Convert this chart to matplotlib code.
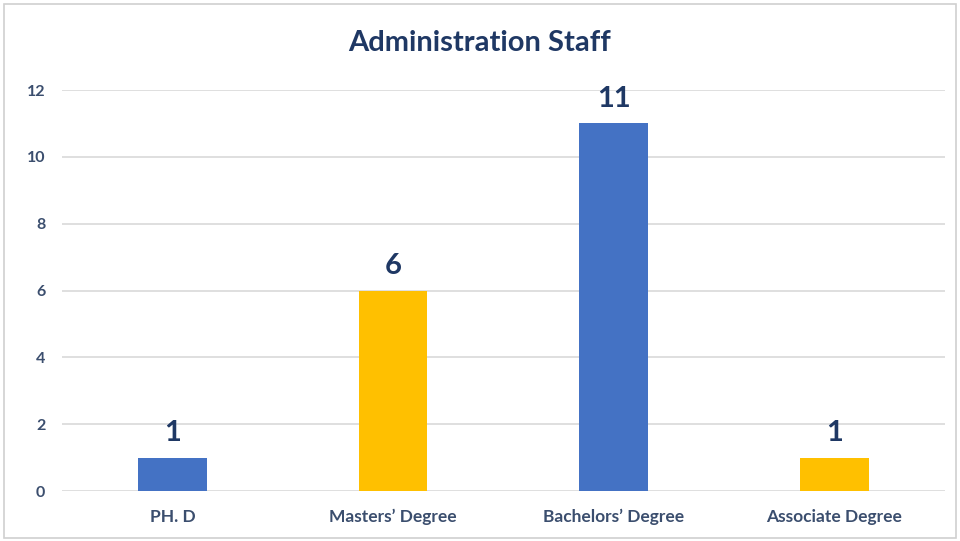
import matplotlib
matplotlib.use("Agg")
import matplotlib.pyplot as plt
from matplotlib.patches import Rectangle

categories = ["PH. D", "Masters\u2019 Degree", "Bachelors\u2019 Degree", "Associate Degree"]
values = [1, 6, 11, 1]
colors = ["#4472C4", "#FFC000", "#4472C4", "#FFC000"]
yticks = [0, 2, 4, 6, 8, 10, 12]

navy = "#1F3864"
tickc = "#3B4E6E"

plt.rcParams['font.family'] = ['Lato', 'DejaVu Sans']

fig = plt.figure(figsize=(9.6, 5.41), dpi=100)
fig.patches.append(Rectangle((0.004, 0.006), 0.992, 0.986, transform=fig.transFigure,
                             fill=False, edgecolor="#D0D0D0", linewidth=1.2))
ax = fig.add_axes([0.0646, 0.0924, 0.9194, 0.7412])
x = list(range(len(categories)))
bars = ax.bar(x, values, width=0.31, color=colors, zorder=3)
ax.set_xlim(-0.5, len(categories) - 0.5)
ax.set_ylim(0, 12)
ax.set_yticks(yticks)
ax.set_yticklabels([str(t) for t in yticks])
ax.set_xticks(x)
ax.set_xticklabels(categories)
ax.grid(axis='y', color="#D9D9D9", linewidth=1.2, zorder=0)
for s in ax.spines.values():
    s.set_visible(False)
ax.tick_params(axis='both', length=0)
ax.tick_params(axis='y', pad=12, labelsize=11.5, labelcolor=tickc)
ax.tick_params(axis='x', pad=13, labelsize=12.5, labelcolor=tickc)
for lbl in ax.get_xticklabels() + ax.get_yticklabels():
    lbl.set_fontweight('bold')
for b, v in zip(bars, values):
    ax.annotate(str(v), (b.get_x() + b.get_width() / 2, v), xytext=(0, 8),
                textcoords='offset points', ha='center', va='bottom',
                fontsize=21, fontweight='bold', color=navy)
fig.text(0.5, 0.92, "Administration Staff", ha='center', va='center',
         fontsize=21, fontweight='bold', color=navy)
fig.savefig("out.png", dpi=100)
